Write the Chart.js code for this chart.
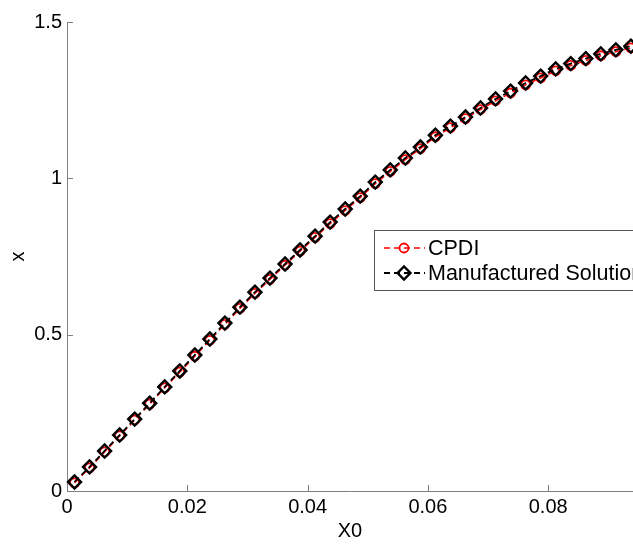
<!DOCTYPE html>
<html>
<head>
<meta charset="utf-8">
<script src="https://cdn.jsdelivr.net/npm/chart.js@4.4.0/dist/chart.umd.min.js"></script>
<style>
  html, body { margin: 0; padding: 0; background: #fff; }
  #wrap { width: 633px; height: 548px; }
</style>
</head>
<body>
<div id="wrap"><canvas id="solutionChart"></canvas></div>
<script>
// reference positions X0 (cell centres)
const x0Values = [0.00125, 0.00375, 0.00625, 0.00875, 0.01125, 0.01375, 0.01625, 0.01875,
    0.02125, 0.02375, 0.02625, 0.02875, 0.03125, 0.03375, 0.03625, 0.03875,
    0.04125, 0.04375, 0.04625, 0.04875, 0.05125, 0.05375, 0.05625, 0.05875,
    0.06125, 0.06375, 0.06625, 0.06875, 0.07125, 0.07375, 0.07625, 0.07875,
    0.08125, 0.08375, 0.08625, 0.08875, 0.09125, 0.09375];

// current positions x
const cpdiValues = [0.026, 0.074, 0.125, 0.176, 0.227, 0.278, 0.330, 0.380,
    0.431, 0.482, 0.533, 0.584, 0.632, 0.677, 0.722, 0.767,
    0.811, 0.855, 0.897, 0.938, 0.983, 1.022, 1.060, 1.095,
    1.133, 1.162, 1.191, 1.220, 1.248, 1.273, 1.299, 1.321,
    1.344, 1.361, 1.377, 1.392, 1.405, 1.417];

const exactValues = [0.029, 0.077, 0.128, 0.179, 0.230, 0.281, 0.333, 0.384,
    0.435, 0.486, 0.537, 0.588, 0.636, 0.681, 0.726, 0.771,
    0.815, 0.860, 0.902, 0.943, 0.988, 1.027, 1.065, 1.100,
    1.138, 1.167, 1.196, 1.225, 1.254, 1.279, 1.305, 1.327,
    1.350, 1.367, 1.383, 1.398, 1.411, 1.423];

const xTicks = [0, 0.02, 0.04, 0.06, 0.08];
const xTickLabels = ['0', '0.02', '0.04', '0.06', '0.08'];
const yTicks = [0, 0.5, 1, 1.5];
const yTickLabels = ['0', '0.5', '1', '1.5'];

const axisColor = '#808080';
const fontFamily = "'Liberation Sans', Arial, sans-serif";

// MATLAB style ticks pointing into the axes
const innerTicks = {
    id: 'innerTicks',
    afterDatasetsDraw(chart) {
        const { ctx, chartArea, scales: { x, y } } = chart;
        ctx.save();
        ctx.strokeStyle = axisColor;
        ctx.lineWidth = 1;
        ctx.beginPath();
        xTicks.forEach(v => {
            const px = Math.round(x.getPixelForValue(v)) + 0.5;
            ctx.moveTo(px, chartArea.bottom);
            ctx.lineTo(px, chartArea.bottom - 6);
        });
        yTicks.forEach(v => {
            const py = Math.round(y.getPixelForValue(v)) + 0.5;
            ctx.moveTo(chartArea.left, py);
            ctx.lineTo(chartArea.left + 6, py);
        });
        ctx.stroke();
        ctx.restore();
    }
};

function drawMarker(ctx, ds, cx, cy) {
    ctx.save();
    ctx.setLineDash([]);
    ctx.strokeStyle = ds.pointBorderColor;
    ctx.lineWidth = ds.pointBorderWidth;
    ctx.beginPath();
    if (ds.pointStyle === 'circle') {
        ctx.arc(cx, cy, ds.pointRadius, 0, Math.PI * 2);
    } else {
        const r = ds.pointRadius;
        ctx.moveTo(cx - r, cy);
        ctx.lineTo(cx, cy - r);
        ctx.lineTo(cx + r, cy);
        ctx.lineTo(cx, cy + r);
        ctx.closePath();
    }
    ctx.stroke();
    ctx.restore();
}

// boxed legend inside the axes (runs off the right edge like the original)
const boxLegend = {
    id: 'boxLegend',
    afterDraw(chart) {
        const ctx = chart.ctx;
        const left = 374.5, top = 230.5, rowH = 25;
        ctx.save();
        ctx.fillStyle = '#fff';
        ctx.fillRect(left, top, 300, 60);
        ctx.strokeStyle = '#555';
        ctx.lineWidth = 1;
        ctx.strokeRect(left, top, 300, 60);
        chart.data.datasets.forEach((ds, i) => {
            const cy = top + 17.5 + i * rowH;
            ctx.strokeStyle = ds.borderColor;
            ctx.lineWidth = ds.borderWidth;
            ctx.setLineDash(ds.borderDash);
            ctx.beginPath();
            ctx.moveTo(384, cy);
            ctx.lineTo(425, cy);
            ctx.stroke();
            drawMarker(ctx, ds, 404, cy);
            ctx.fillStyle = '#000';
            ctx.font = '21.5px ' + fontFamily;
            ctx.textBaseline = 'middle';
            ctx.textAlign = 'left';
            ctx.fillText(ds.label, 428, cy + 1);
        });
        ctx.restore();
    }
};

const chart = new Chart(document.getElementById('solutionChart'), {
    type: 'line',
    data: {
        datasets: [
            {
                label: 'CPDI',
                data: x0Values.map((v, i) => ({ x: v, y: cpdiValues[i] })),
                borderColor: '#ff0000',
                borderWidth: 1.5,
                borderDash: [6, 4],
                pointStyle: 'circle',
                pointRadius: 4.5,
                pointBorderColor: '#ff0000',
                pointBorderWidth: 1.8,
                pointBackgroundColor: 'rgba(0,0,0,0)',
                tension: 0,
                clip: false,
                order: 2
            },
            {
                label: 'Manufactured Solution',
                data: x0Values.map((v, i) => ({ x: v, y: exactValues[i] })),
                borderColor: '#000000',
                borderWidth: 1.8,
                borderDash: [6, 4],
                pointStyle: 'rectRot',
                pointRadius: 6.5,
                pointBorderColor: '#000000',
                pointBorderWidth: 2.4,
                pointBackgroundColor: 'rgba(0,0,0,0)',
                tension: 0,
                clip: false,
                order: 1
            }
        ]
    },
    options: {
        responsive: true,
        maintainAspectRatio: false,
        animation: false,
        layout: { autoPadding: false, padding: { top: 22, right: 0, left: 0, bottom: 0 } },
        plugins: {
            legend: { display: false },
            tooltip: { enabled: false }
        },
        elements: { point: { hoverRadius: 6 } },
        scales: {
            x: {
                type: 'linear',
                min: 0,
                max: 0.0941,
                afterBuildTicks: s => { s.ticks = xTicks.map(v => ({ value: v })); },
                afterFit: s => { s.height = 57; s.paddingLeft = 0; s.paddingRight = 0; },
                ticks: {
                    color: '#000',
                    padding: 4,
                    maxRotation: 0,
                    font: { family: fontFamily, size: 20 },
                    callback: (v) => xTickLabels[xTicks.indexOf(v)]
                },
                grid: { drawOnChartArea: false, drawTicks: false },
                border: { color: axisColor, width: 1 },
                title: {
                    display: true,
                    text: 'X0',
                    color: '#000',
                    font: { family: fontFamily, size: 20 },
                    padding: { top: 0, bottom: 5 }
                }
            },
            y: {
                type: 'linear',
                min: 0,
                max: 1.5,
                afterBuildTicks: s => { s.ticks = yTicks.map(v => ({ value: v })); },
                afterFit: s => { s.width = 67; s.paddingTop = 0; s.paddingBottom = 0; },
                ticks: {
                    color: '#000',
                    padding: 5,
                    font: { family: fontFamily, size: 20 },
                    callback: (v) => yTickLabels[yTicks.indexOf(v)]
                },
                grid: { drawOnChartArea: false, drawTicks: false },
                border: { color: axisColor, width: 1 },
                title: {
                    display: true,
                    text: 'x',
                    color: '#000',
                    font: { family: fontFamily, size: 20 },
                    padding: { top: 6, bottom: 0 }
                }
            }
        }
    },
    plugins: [innerTicks, boxLegend]
});
</script>
</body>
</html>
